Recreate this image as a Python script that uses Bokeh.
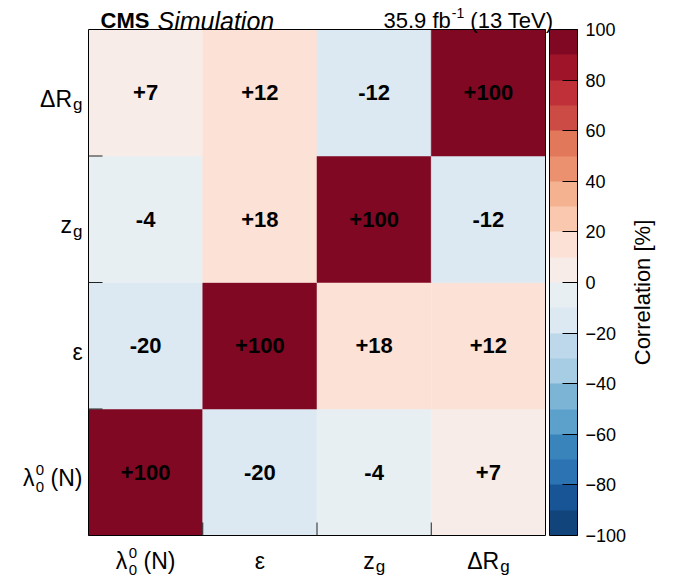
import numpy as np
from bokeh.plotting import figure
from bokeh.models import (LinearColorMapper, ColorBar, FixedTicker, Label, Range1d,
                          ColumnDataSource)
from bokeh.embed import file_html
from bokeh.resources import INLINE
from bokeh.core.properties import value

# ---------------- data ----------------
variables = ["lambda", "epsilon", "zg", "dRg"]          # axis order (x left->right, y bottom->top)
corr_lambda = [100, -20, -4, 7]
corr_epsilon = [-20, 100, 18, 12]
corr_zg = [-4, 18, 100, -12]
corr_dRg = [7, 12, -12, 100]
corr_rows = [corr_lambda, corr_epsilon, corr_zg, corr_dRg]

colorbar_ticks = [-100, -80, -60, -40, -20, 0, 20, 40, 60, 80, 100]
palette = ["#10447a", "#185596", "#2c73b4", "#3a84bc", "#5ca0cc", "#7cb4d6", "#a6cde3",
           "#bcd8ea", "#dce9f2", "#e8eff3", "#f7ece8", "#fce2d6", "#f9c8af", "#f5b291",
           "#ec9170", "#e2785a", "#cc4b45", "#c03038", "#a0142a", "#800823"]

FONT = "Liberation Sans"

# ---------------- geometry (canvas pixels) ----------------
W_C, H_C = 674, 577
PX_L, PX_R, PY_T, PY_B = 88, 545, 29, 535      # matrix frame
n = len(variables)
ux = (PX_R - PX_L) / n
uy = (PY_B - PY_T) / n

def X(px):
    return (px - PX_L) / ux

def Y(py):
    return (PY_B - py) / uy

p = figure(width=W_C, height=H_C,
           x_range=Range1d(X(0), X(W_C)), y_range=Range1d(Y(H_C), Y(0)),
           x_axis_location=None, y_axis_location=None,
           output_backend="svg", toolbar_location=None,
           min_border_left=0, min_border_right=0, min_border_top=0, min_border_bottom=0)
p.grid.visible = False
p.outline_line_color = None
p.background_fill_color = "white"
p.border_fill_color = "white"

mapper = LinearColorMapper(palette=palette, low=-100, high=100)

xs, ys, vals, txt = [], [], [], []
for j, row in enumerate(corr_rows):
    for i, v in enumerate(row):
        xs.append(i + 0.5)
        ys.append(j + 0.5)
        vals.append(v)
        txt.append(f"{v:+d}")
src = ColumnDataSource(dict(x=xs, y=ys, v=vals, t=txt))

p.rect(x="x", y="y", width=1, height=1, source=src,
       fill_color={"field": "v", "transform": mapper},
       line_color={"field": "v", "transform": mapper}, line_width=0.5)
p.text(x="x", y="y", text="t", source=src, text_align="center", text_baseline="middle",
       text_font=value(FONT), text_font_style="bold", text_font_size="22px", text_color="black")

# frame and category-boundary ticks
p.quad(left=[0], right=[n], bottom=[0], top=[n], fill_color=None, line_color="black",
       line_width=1)
inner = list(range(1, n))
p.ray(x=[0] * len(inner), y=inner, length=14, length_units="screen", angle=0,
      line_color="#222222", line_width=1)
p.ray(x=inner, y=[0] * len(inner), length=13, length_units="screen", angle=np.pi / 2,
      line_color="#222222", line_width=1)

# ---------------- colour bar ----------------
cb = ColorBar(color_mapper=mapper, ticker=FixedTicker(ticks=colorbar_ticks),
              major_label_overrides={t: str(t).replace("-", "\u2212") for t in colorbar_ticks},
              width=28, height=PY_B - PY_T, margin=0, padding=0,
              location=(549, H_C - PY_B),
              major_tick_in=15, major_tick_out=0, major_tick_line_color="black",
              minor_tick_line_color=None, bar_line_color="black",
              label_standoff=8, major_label_text_font=FONT, major_label_text_font_size="18px",
              major_label_text_color="black", border_line_color=None,
              background_fill_color=None)
p.add_layout(cb, "center")

# ---------------- axis labels built from text pieces ----------------
W = {"\u0394": 0.668, "R": 0.722, "g": 0.556, "z": 0.5, "\u03b5": 0.44, "\u03bb": 0.52,
     "0": 0.556, "(": 0.333, "N": 0.722, ")": 0.333, " ": 0.278,
     "C": 0.722, "M": 0.833, "S": 0.667}
MAIN, SUB, IDX = 23, 17, 15

def tw(s, size):
    return sum(W.get(c, 0.55) for c in s) * size

label_parts = {
    "lambda": [("\u03bb", "main"), ("0", "supsub"), (" ", "space"), ("(N)", "main")],
    "epsilon": [("\u03b5", "main")],
    "zg": [("z", "main"), ("g", "sub")],
    "dRg": [("\u0394R", "main"), ("g", "sub")],
}

def layout_parts(parts):
    out, cur = [], 0.0
    for text, role in parts:
        if role == "main":
            out.append((text, cur, 0, MAIN))
            cur += tw(text, MAIN)
        elif role == "space":
            cur += tw(text, MAIN)
        elif role == "sub":
            out.append((text, cur + 1, -6, SUB))
            cur += tw(text, SUB) + 1
        elif role == "supsub":
            out.append((text, cur + 1, 8, IDX))
            out.append((text, cur + 1, -9, IDX))
            cur += tw(text, IDX) + 1
    return out, cur

def add_piece(x, y, text, xo, yo, size, style="normal", align="left"):
    p.add_layout(Label(x=x, y=y, x_offset=xo, y_offset=yo, text=text, text_font=FONT,
                       text_font_size=f"{size}px", text_font_style=style, text_align=align,
                       text_baseline="alphabetic", text_color="black"))

for k, name in enumerate(variables):
    pieces, total = layout_parts(label_parts[name])
    for text, dx, dy, size in pieces:          # x axis (below the matrix)
        add_piece(k + 0.5, 0, text, -total / 2 + dx, -(560 - PY_B) + dy, size)
    for text, dx, dy, size in pieces:          # y axis (left of the matrix)
        add_piece(0, k + 0.5, text, -6 - total + dx, -6 + dy, size)

# ---------------- header texts ----------------
HEAD = 22
add_piece(X(100), Y(20), "CMS", 0, 0, HEAD, style="bold")
add_piece(X(157), Y(20), "Simulation", 0, 0, 25, style="italic")
w_tev = tw("(13 TeV)", HEAD) + 8.0
w_sup = 0.889 * 14
add_piece(X(553), Y(20), "(13 TeV)", 0, 0, HEAD, align="right")
add_piece(X(553), Y(20), "-1", -w_tev, 8, 14, align="right")
add_piece(X(553), Y(20), "35.9 fb", -w_tev - w_sup - 1, 0, HEAD, align="right")

# colour bar title
p.add_layout(Label(x=X(642), y=Y(292), text="Correlation [%]", text_font=FONT,
                   text_font_size="22px", text_align="center", text_baseline="middle",
                   angle=np.pi / 2, angle_units="rad", text_color="black"))

open("out.html", "w").write(file_html(p, INLINE))
